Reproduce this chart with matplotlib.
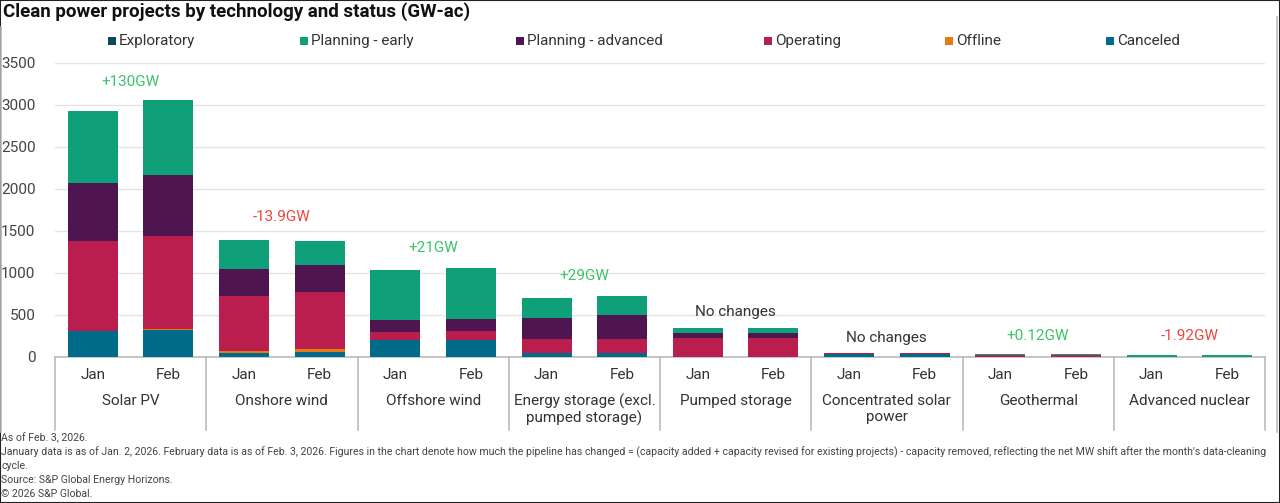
import matplotlib
matplotlib.use("Agg")
import matplotlib.pyplot as plt
from matplotlib.patches import Rectangle
from matplotlib.lines import Line2D
import numpy as np

plt.rcParams['font.family'] = ['Roboto', 'DejaVu Sans']

categories = ["Solar PV", "Onshore wind", "Offshore wind", "Energy storage (excl.\npumped storage)",
              "Pumped storage", "Concentrated solar\npower", "Geothermal", "Advanced nuclear"]
months = ["Jan", "Feb"]

# values per bar: order Solar Jan, Solar Feb, Onshore Jan, Onshore Feb, ...
canceled    = [310, 320, 45, 65, 200, 200, 45, 45, 5, 5, 30, 30, 2, 2, 0, 0]
offline     = [5, 10, 30, 35, 0, 0, 0, 0, 0, 0, 0, 0, 0, 0, 0, 0]
operating   = [1060, 1110, 650, 670, 100, 105, 165, 170, 217, 217, 15, 15, 22, 22, 0, 0]
plan_adv    = [700, 730, 320, 320, 135, 145, 258, 285, 60, 60, 2, 2, 4, 4, 2, 2]
plan_early  = [850, 890, 350, 290, 605, 610, 230, 227, 60, 60, 0, 0, 4, 4, 23, 22]
exploratory = [0, 0, 0, 0, 0, 0, 0, 0, 0, 0, 0, 0, 0, 0, 0, 0]

changes = ["+130GW", "-13.9GW", "+21GW", "+29GW", "No changes", "No changes", "+0.12GW", "-1.92GW"]
change_y = [3274, 1667, 1298, 964, 536, 226, 250, 250]

series_names = ["Exploratory", "Planning - early", "Planning - advanced", "Operating", "Offline", "Canceled"]
colors = {"Exploratory": "#0D4A5E", "Planning - early": "#0F9F79", "Planning - advanced": "#4F1551",
          "Operating": "#BA1E4F", "Offline": "#E57C12", "Canceled": "#006B89"}

W, H = 1280, 503
fig = plt.figure(figsize=(W/100, H/100), dpi=100)

def fx(px): return px / W
def fy(py): return 1 - py / H

ax = fig.add_axes([fx(55), fy(357), fx(1265) - fx(55), fy(63) - fy(357)])

x = np.arange(16)
bw = 0.66
stack = [("Canceled", canceled), ("Offline", offline), ("Operating", operating),
         ("Planning - advanced", plan_adv), ("Planning - early", plan_early), ("Exploratory", exploratory)]
bottom = np.zeros(16)
for name, vals in stack:
    v = np.array(vals, dtype=float)
    ax.bar(x, v, bw, bottom=bottom, color=colors[name], zorder=3, linewidth=0)
    bottom += v

ax.set_xlim(-0.5, 15.5)
ax.set_ylim(0, 3500)
ax.set_yticks(np.arange(0, 3501, 500))
ax.tick_params(axis='y', length=0, labelsize=11, colors='#444444', pad=14)
ax.tick_params(axis='x', length=0)
ax.set_xticks([])
ax.grid(axis='y', color='#E4E4E4', linewidth=1, zorder=0)
for s in ['left', 'right', 'top']:
    ax.spines[s].set_visible(False)
ax.spines['bottom'].set_color('#BBBBBB')
ax.spines['bottom'].set_linewidth(1.2)

# separators and labels
ybot = (357 - 430) / 294.0
for k in range(9):
    xs = -0.5 + 2 * k
    ax.add_line(Line2D([xs, xs], [0, ybot], transform=ax.get_xaxis_transform(),
                       color='#BBBBBB', linewidth=1.2, clip_on=False))
for i in range(16):
    ax.text(x[i], (357 - 375) / 294.0, months[i % 2], transform=ax.get_xaxis_transform(),
            ha='center', va='center', fontsize=11, color='#333333')
for g, cat in enumerate(categories):
    ax.text(2 * g + 0.5, (357 - 394) / 294.0, cat, transform=ax.get_xaxis_transform(),
            ha='center', va='top', fontsize=11, color='#333333', linespacing=1.15)

# change annotations
for g, (txt, yv) in enumerate(zip(changes, change_y)):
    if txt.startswith('+'):
        c = '#3CC36B'
    elif txt.startswith('-'):
        c = '#F0453E'
    else:
        c = '#333333'
    ax.text(2 * g + 0.5, yv, txt, ha='center', va='center', fontsize=11, color=c, zorder=5)

# title
fig.text(fx(3), fy(12), "Clean power projects by technology and status (GW-ac)", fontsize=13.5,
         fontweight='bold', color='#111111', ha='left', va='center')

# legend
leg_x = [112, 304, 520, 768, 949, 1110]
for name, lx in zip(series_names, leg_x):
    fig.patches.append(Rectangle((fx(lx - 4), fy(45)), fx(8), 8 / H, transform=fig.transFigure,
                                 facecolor=colors[name], edgecolor='none'))
    fig.text(fx(lx + 7), fy(41), name, fontsize=11, color='#333333', ha='left', va='center')

# frames
fig.add_artist(Line2D([fx(1), fx(1)], [fy(27), fy(432)], color='#BBBBBB', linewidth=1.2))
fig.add_artist(Line2D([fx(1277), fx(1277)], [fy(17), fy(432)], color='#BBBBBB', linewidth=1.2))
fig.add_artist(Rectangle((0, 0), 1, 1, transform=fig.transFigure, fill=False,
                         edgecolor='#222222', linewidth=1.5))

# footnotes
notes = ["As of Feb. 3, 2026.",
         "January data is as of Jan. 2, 2026. February data is as of Feb. 3, 2026. Figures in the chart denote how much the pipeline has changed = (capacity added + capacity revised for existing projects) - capacity removed, reflecting the net MW shift after the month's data-cleaning",
         "cycle.",
         "Source: S&P Global Energy Horizons.",
         "\u00a9 2026 S&P Global."]
for i, n in enumerate(notes):
    fig.text(fx(1), fy(438 + 14 * i), n, fontsize=7.6, color='#444444', ha='left', va='center')

fig.savefig("out.png", dpi=100)
